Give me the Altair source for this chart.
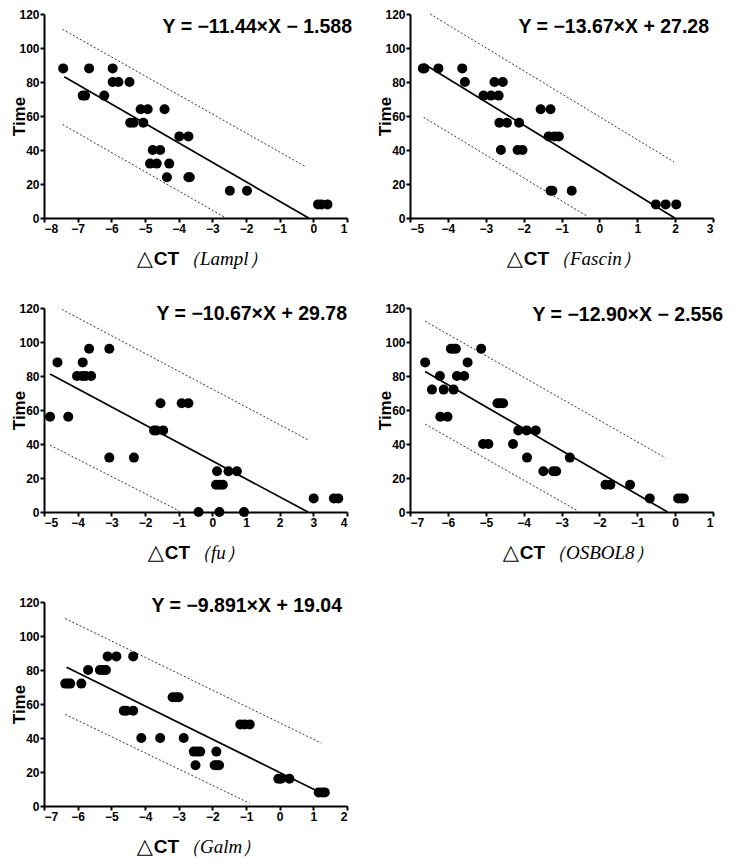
import pandas as pd
import altair as alt

# Scatter values (dCT, Time)
lampl_x = [-7.43, -6.66, -5.96, -5.96, -5.79, -5.46, -6.85, -6.78, -6.21, -5.13, -4.92, -4.42,
           -5.44, -5.34, -5.05, -3.98, -3.71, -4.77, -4.55, -4.85, -4.65, -4.28, -4.35, -3.71,
           -3.67, -2.48, -1.97, 0.14, 0.24, 0.42]
lampl_y = [88, 88, 88, 80, 80, 80, 72, 72, 72, 64, 64, 64, 56, 56, 56, 48, 48, 40, 40, 32,
           32, 32, 24, 24, 24, 16, 16, 8, 8, 8]

fascin_x = [-4.66, -4.62, -4.25, -3.62, -3.55, -2.77, -2.55, -3.06, -2.86, -2.66, -1.55, -1.29,
            -2.64, -2.44, -2.12, -1.34, -1.18, -1.07, -2.60, -2.16, -2.03, -1.29, -1.24, -0.73,
            1.49, 1.75, 2.03]
fascin_y = [88, 88, 88, 88, 80, 80, 80, 72, 72, 72, 64, 64, 56, 56, 56, 48, 48, 48, 40, 40,
            40, 16, 16, 16, 8, 8, 8]

fu_x = [-4.82, -4.60, -4.28, -4.02, -3.87, -3.77, -3.60, -3.85, -3.66, -3.06, -3.06, -2.33,
        -1.73, -1.66, -1.46, -1.54, -0.91, -0.71, 0.14, 0.48, 0.73, 0.11, 0.21, 0.31, -0.41,
        0.21, 0.94, 3.01, 3.61, 3.74]
fu_y = [56, 88, 56, 80, 80, 80, 80, 88, 96, 96, 32, 32, 48, 48, 48, 64, 64, 64, 24, 24, 24,
        16, 16, 16, 0, 0, 0, 8, 8, 8]

osbol8_x = [-6.60, -6.42, -6.11, -6.21, -6.20, -6.01, -5.92, -5.85, -5.79, -5.85, -5.76, -5.57,
            -5.48, -5.12, -5.07, -4.93, -4.69, -4.62, -4.54, -4.28, -4.14, -3.92, -3.68, -3.91,
            -3.48, -3.22, -3.14, -2.78, -1.84, -1.71, -1.19, -0.67, 0.08, 0.16, 0.23]
osbol8_y = [88, 72, 72, 80, 56, 56, 96, 96, 96, 72, 80, 80, 88, 96, 40, 40, 64, 64, 64, 40,
            48, 48, 48, 32, 24, 24, 24, 32, 16, 16, 16, 8, 8, 8, 8]

galm_x = [-6.37, -6.29, -6.22, -5.89, -5.69, -5.34, -5.24, -5.16, -5.11, -4.85, -4.35, -4.63,
          -4.55, -4.35, -4.11, -3.55, -2.85, -3.18, -3.08, -3.00, -2.55, -2.45, -2.36, -2.50,
          -1.88, -1.93, -1.86, -1.80, -1.17, -1.04, -0.89, -0.04, 0.04, 0.29, 1.16, 1.26, 1.34]
galm_y = [72, 72, 72, 72, 80, 80, 80, 80, 88, 88, 88, 56, 56, 56, 40, 40, 40, 64, 64, 64,
          32, 32, 32, 24, 32, 24, 24, 24, 48, 48, 48, 16, 16, 16, 8, 8, 8]

# Line end points: fit line and the two dotted bands
lampl_lines = {"fit": [(-7.4, 83.1), (-0.14, 0)],
               "upper": [(-7.45, 111), (-0.24, 30.3)],
               "lower": [(-7.45, 55), (-2.64, 0.5)]}
fascin_lines = {"fit": [(-4.64, 90.7), (1.99, 0)],
                "upper": [(-4.47, 120), (1.97, 33)],
                "lower": [(-4.64, 59.2), (-0.32, 1)]}
fu_lines = {"fit": [(-4.82, 81.2), (2.84, 0)],
            "upper": [(-4.47, 119.2), (2.84, 42.5)],
            "lower": [(-4.82, 39.3), (-0.98, 0.6)]}
osbol8_lines = {"fit": [(-6.60, 82.6), (-0.2, 0)],
                "upper": [(-6.60, 112.2), (-0.25, 31.8)],
                "lower": [(-6.60, 51.7), (-2.60, 1)]}
galm_lines = {"fit": [(-6.33, 81.6), (1.25, 7.5)],
              "upper": [(-6.37, 110.3), (1.24, 37)],
              "lower": [(-6.37, 53.9), (-0.89, 1.6)]}

genes = ["Lampl", "Fascin", "fu", "OSBOL8", "Galm"]
equations = ["Y = −11.44×X − 1.588", "Y = −13.67×X + 27.28", "Y = −10.67×X + 29.78",
             "Y = −12.90×X − 2.556", "Y = −9.891×X + 19.04"]
x_ticks = [list(range(-8, 2)), list(range(-5, 4)), list(range(-5, 5)),
           list(range(-7, 2)), list(range(-7, 3))]
y_ticks = [0, 20, 40, 60, 80, 100, 120]

# layout tweaks per panel: equation right edge / centre y, split point of the x title
eq_pos = [(308, 13), (299, 13), (303, 6), (313, 7), (298, 4)]
title_split = [135, 139, 146, 135, 135]

W, H = 303, 204
SANS = "Liberation Sans"


def make_panel(i, xs, ys, lines):
    pts = pd.DataFrame({"x": xs, "y": ys})
    rows = []
    for kind, ends in lines.items():
        for px, py in ends:
            rows.append({"x": px, "y": py, "kind": kind})
    ln = pd.DataFrame(rows)

    xscale = alt.Scale(domain=[x_ticks[i][0], x_ticks[i][-1]], nice=False, zero=False)
    yscale = alt.Scale(domain=[0, 120], nice=False)
    xaxis = alt.Axis(values=x_ticks[i], title=None, format="d", labelOverlap=False)
    yaxis = alt.Axis(values=y_ticks, title="Time", titleFontSize=17, titleFont=SANS,
                     titleFontWeight="bold", titleX=-20, titleY=H / 2,
                     titleBaseline="alphabetic", labelOverlap=False)
    xenc = alt.X("x:Q", scale=xscale, axis=xaxis)
    yenc = alt.Y("y:Q", scale=yscale, axis=yaxis)

    bands = alt.Chart(ln[ln.kind != "fit"]).mark_line(
        color="#333333", strokeWidth=1, strokeDash=[2, 2]
    ).encode(x=xenc, y=yenc, detail="kind:N")
    fit = alt.Chart(ln[ln.kind == "fit"]).mark_line(color="black", strokeWidth=1.7).encode(
        x=xenc, y=yenc
    )
    dots = alt.Chart(pts).mark_circle(size=100, color="black", opacity=1).encode(x=xenc, y=yenc)

    ex, ey = eq_pos[i]
    eq = alt.Chart(pts.head(1)).mark_text(
        align="right", baseline="middle", font=SANS, fontSize=19.5, fontWeight="bold", color="black"
    ).encode(x=alt.value(ex), y=alt.value(ey), text=alt.value(equations[i]))

    sx = title_split[i]
    ty = H + 41
    t0 = alt.Chart(pts.head(1)).mark_text(
        align="right", baseline="middle", font="DejaVu Sans", fontSize=21, color="black"
    ).encode(x=alt.value(sx - 26), y=alt.value(ty), text=alt.value("△"))
    t1 = alt.Chart(pts.head(1)).mark_text(
        align="right", baseline="middle", font=SANS, fontSize=19, fontWeight="bold", color="black"
    ).encode(x=alt.value(sx), y=alt.value(ty), text=alt.value("CT"))
    t2 = alt.Chart(pts.head(1)).mark_text(
        align="left", baseline="middle", font="Liberation Serif", fontSize=19, fontStyle="italic",
        color="black"
    ).encode(x=alt.value(sx + 2), y=alt.value(ty), text=alt.value("（" + genes[i] + "）"))

    return alt.layer(bands, fit, dots, eq, t0, t1, t2).properties(width=W, height=H)


p = [make_panel(0, lampl_x, lampl_y, lampl_lines),
     make_panel(1, fascin_x, fascin_y, fascin_lines),
     make_panel(2, fu_x, fu_y, fu_lines),
     make_panel(3, osbol8_x, osbol8_y, osbol8_lines),
     make_panel(4, galm_x, galm_y, galm_lines)]

chart = alt.concat(
    *p, columns=2, spacing=alt.RowColnumber(row=90, column=63), bounds="flush"
).configure_view(
    stroke=None
).configure_axis(
    grid=False, domainColor="black", domainWidth=2, tickColor="black", tickWidth=2,
    tickSize=4, labelFont=SANS, labelFontSize=12, labelFontWeight="bold", labelColor="black",
    labelPadding=1, labelOverlap=False, titleColor="black"
).properties(
    background="white", padding={"left": 2, "top": 0, "right": 5, "bottom": 5}
)

chart.save("out.html", embed_options={"renderer": "svg", "actions": False})
